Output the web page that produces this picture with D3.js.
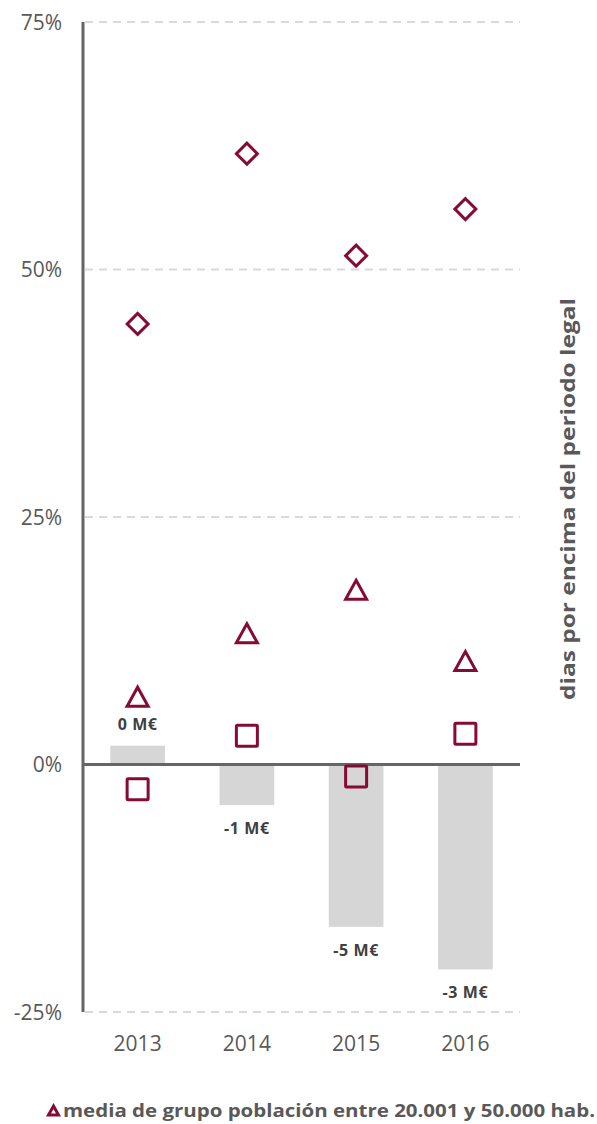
<!DOCTYPE html>
<html><head><meta charset="utf-8">
<script src="https://cdn.jsdelivr.net/npm/d3@7/dist/d3.min.js"></script>
<style>body{margin:0;background:#fff}svg{display:block}text{font-family:"Open Sans",Lato,sans-serif}</style>
</head><body>
<script>
const years = ["2013","2014","2015","2016"];
const barValues = [1.9, -4.1, -16.4, -20.7];
const barLabels = ["0 M€","-1 M€","-5 M€","-3 M€"];
const diamondValues = [44.5, 61.7, 51.4, 56.1];
const triangleValues = [6.8, 13.2, 17.6, 10.4];
const squareValues = [-2.5, 2.9, -1.2, 3.1];
const yTicks = [-25, 0, 25, 50, 75];

(function(){
const W = 597, H = 1124;
const pLeft = 83, pRight = 520, pTop = 22, pBottom = 1012;
const red = "#860b32", gray = "#595959";

const svg = d3.select("body").append("svg").attr("width", W).attr("height", H);
const x = d3.scaleBand().domain(years).range([pLeft, pRight]).paddingInner(0.5).paddingOuter(0.25);
const y = d3.scaleLinear().domain([-25, 75]).range([pBottom, pTop]);

// gridlines
svg.append("g").selectAll("line").data(yTicks.filter(d => d !== 0)).join("line")
  .attr("x1", pLeft + 2).attr("x2", pRight).attr("y1", d => y(d)).attr("y2", d => y(d))
  .attr("stroke", "#d9d9d9").attr("stroke-width", 2).attr("stroke-dasharray", "8,6");

// y tick labels
svg.append("g").selectAll("text").data(yTicks).join("text")
  .attr("x", 62).attr("y", d => y(d)).attr("dy", "0.36em").attr("text-anchor", "end")
  .attr("font-size", 21).attr("fill", gray).text(d => d + "%");

// bars
svg.append("g").selectAll("rect").data(barValues).join("rect")
  .attr("x", (d, i) => x(years[i])).attr("width", x.bandwidth())
  .attr("y", d => y(Math.max(0, d))).attr("height", d => Math.abs(y(d) - y(0)))
  .attr("fill", "#d6d6d6");

// bar labels
svg.append("g").selectAll("text").data(barValues).join("text")
  .attr("x", (d, i) => x(years[i]) + x.bandwidth() / 2)
  .attr("y", d => d >= 0 ? y(d) - 16 : y(d) + 29)
  .attr("text-anchor", "middle").attr("font-size", 16).attr("font-weight", "bold")
  .attr("letter-spacing", 0.6)
  .attr("fill", "#404040").text((d, i) => barLabels[i]);

// axes lines
svg.append("line").attr("x1", pLeft).attr("x2", pLeft).attr("y1", pTop).attr("y2", pBottom)
  .attr("stroke", "#666").attr("stroke-width", 3);
svg.append("line").attr("x1", pLeft).attr("x2", pRight).attr("y1", y(0)).attr("y2", y(0))
  .attr("stroke", "#666").attr("stroke-width", 3);

// x labels
svg.append("g").selectAll("text").data(years).join("text")
  .attr("x", d => x(d) + x.bandwidth() / 2).attr("y", 1051).attr("text-anchor", "middle")
  .attr("font-size", 21).attr("fill", gray).text(d => d);

const cx = i => x(years[i]) + x.bandwidth() / 2;
const mk = svg.append("g").attr("fill", "none").attr("stroke", red).attr("stroke-width", 3);
// diamonds
mk.selectAll(".dia").data(diamondValues).join("path").attr("class", "dia")
  .attr("d", d3.symbol(d3.symbolSquare, 220)())
  .attr("transform", (d, i) => `translate(${cx(i)},${y(d)}) rotate(45)`);
// triangles
mk.selectAll(".tri").data(triangleValues).join("path").attr("class", "tri")
  .attr("d", "M0,-10L10.5,9L-10.5,9Z")
  .attr("transform", (d, i) => `translate(${cx(i)},${y(d)})`);
// squares
mk.selectAll(".sq").data(squareValues).join("rect").attr("class", "sq")
  .attr("x", -10.5).attr("y", -10.5).attr("width", 21).attr("height", 21).attr("rx", 1)
  .attr("transform", (d, i) => `translate(${cx(i)},${y(d)})`);

// right axis title
svg.append("text").attr("transform", "translate(575,499) rotate(-90)")
  .attr("text-anchor", "middle").attr("font-size", 20).attr("font-weight", "bold")
  .attr("textLength", 402).attr("lengthAdjust", "spacingAndGlyphs")
  .attr("fill", gray).text("dias por encima del periodo legal");

// legend
const lg = svg.append("g").attr("transform", "translate(0,1111)");
lg.append("path").attr("d", "M0,-5L5,4L-5,4Z").attr("transform", "translate(53.5,0)")
  .attr("fill", "none").attr("stroke", red).attr("stroke-width", 3);
lg.append("text").attr("x", 63).attr("y", 0).attr("dy", "0.36em").attr("font-size", 17)
  .attr("font-weight", "bold").attr("textLength", 532).attr("lengthAdjust", "spacingAndGlyphs")
  .attr("fill", gray).text("media de grupo población entre 20.001 y 50.000 hab.");
})();
</script>
</body></html>
